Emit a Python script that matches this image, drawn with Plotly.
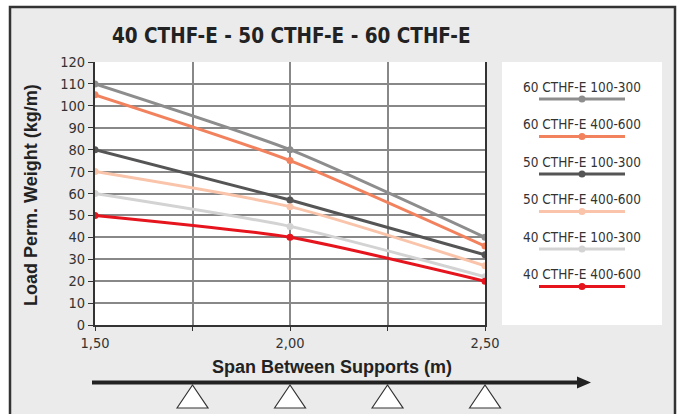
import plotly.graph_objects as go

# ---------------- data ----------------
span = [1.5, 2.0, 2.5]
series_names = ["60 CTHF-E 100-300", "60 CTHF-E 400-600", "50 CTHF-E 100-300",
                "50 CTHF-E 400-600", "40 CTHF-E 100-300", "40 CTHF-E 400-600"]
s60_100_300 = [110, 80, 40]
s60_400_600 = [105, 75, 36]
s50_100_300 = [80, 57, 32]
s50_400_600 = [70, 54, 27]
s40_100_300 = [60, 45, 22]
s40_400_600 = [50, 40, 20]
series_values = [s60_100_300, s60_400_600, s50_100_300, s50_400_600, s40_100_300, s40_400_600]
colors = ["#8d8d8d", "#f2825e", "#555555", "#f9c4aa", "#d3d3d3", "#e5141d"]
x_tick_vals = [1.5, 1.75, 2.0, 2.25, 2.5]
x_tick_text = ["1,50", "", "2,00", "", "2,50"]
support_positions = [1.75, 2.0, 2.25, 2.5]
x_range = [1.5, 2.5]
y_range = [0, 120]
title_text = "40 CTHF-E - 50 CTHF-E - 60 CTHF-E"
y_title = "Load Perm. Weight (kg/m)"
x_title = "Span Between Supports (m)"

# ---------------- layout helpers ----------------
W, H = 680, 414
L, R, T, B = 95, 195, 62, 89
PW, PH = W - L - R, H - T - B
def px(x):  # pixel x -> paper
    return (x - L) / PW
def py(y):  # pixel y -> paper
    return (H - B - y) / PH
def xdata_to_paper(v):
    return (v - x_range[0]) / (x_range[1] - x_range[0])

cond = "DejaVu Sans Condensed"
boldf = "Liberation Sans, Arial, sans-serif"

fig = go.Figure()
for name, vals, c in zip(series_names, series_values, colors):
    fig.add_trace(go.Scatter(x=span, y=vals, name=name, mode="lines+markers",
                             line=dict(color=c, width=3, shape="spline", smoothing=0.6),
                             marker=dict(color=c, size=7), showlegend=False))

shapes = []
# outer frame
shapes.append(dict(type="rect", xref="paper", yref="paper", x0=px(10), x1=px(675), y0=py(430), y1=py(7),
                   fillcolor="#ebebeb", line=dict(color="#333333", width=2.5), layer="below"))
# plot area white
shapes.append(dict(type="rect", xref="paper", yref="paper", x0=0, x1=1, y0=0, y1=1,
                   fillcolor="white", line=dict(width=0), layer="below"))
# legend box
shapes.append(dict(type="rect", xref="paper", yref="paper", x0=px(502), x1=px(662), y0=py(325), y1=py(62),
                   fillcolor="white", line=dict(width=0), layer="below"))

annotations = []
# custom legend
for i, (name, c) in enumerate(zip(series_names, colors)):
    ty = 86.7 + 37.5 * i
    ly = 99 + 37.5 * i
    annotations.append(dict(text=name, xref="paper", yref="paper", x=px(582), y=py(ty),
                            showarrow=False, xanchor="center", yanchor="middle",
                            font=dict(family=cond, size=13.5, color="#333333")))
    shapes.append(dict(type="line", xref="paper", yref="paper", x0=px(539), x1=px(625),
                       y0=py(ly), y1=py(ly), line=dict(color=c, width=3)))
    shapes.append(dict(type="circle", xref="paper", yref="paper", xsizemode="pixel", ysizemode="pixel",
                       xanchor=px(582), yanchor=py(ly), x0=-3.5, x1=3.5, y0=-3.5, y1=3.5,
                       fillcolor=c, line=dict(width=0)))

# title
annotations.append(dict(text="<b>" + title_text + "</b>", xref="paper", yref="paper", x=px(291), y=py(36.5),
                        showarrow=False, xanchor="center", yanchor="middle",
                        font=dict(family=cond, size=20.5, color="#222222")))
# y title
annotations.append(dict(text="<b>" + y_title + "</b>", xref="paper", yref="paper", x=px(31), y=py(195),
                        showarrow=False, textangle=-90, xanchor="center", yanchor="middle",
                        font=dict(family=boldf, size=18, color="#222222")))
# x title
annotations.append(dict(text="<b>" + x_title + "</b>", xref="paper", yref="paper", x=px(332), y=py(367),
                        showarrow=False, xanchor="center", yanchor="middle",
                        font=dict(family=boldf, size=18, color="#222222")))

# arrow
ay = py(382.5)
shapes.append(dict(type="line", xref="paper", yref="paper", x0=px(92), x1=px(580), y0=ay, y1=ay,
                   line=dict(color="#222222", width=4)))
shapes.append(dict(type="path", xref="paper", yref="paper",
                   path=f"M {px(577)},{ay + 6/PH} L {px(591)},{ay} L {px(577)},{ay - 6/PH} Z",
                   fillcolor="#222222", line=dict(width=0)))
# supports
ytop, ybot = py(385), py(408)
for s in support_positions:
    shapes.append(dict(type="path", xref="paper", yref="paper", xsizemode="pixel",
                       xanchor=xdata_to_paper(s),
                       path=f"M -15.5,{ybot} L 0,{ytop} L 15.5,{ybot} Z",
                       fillcolor="white", line=dict(color="#333333", width=1.2)))

fig.update_layout(
    width=W, height=H, autosize=False,
    margin=dict(l=L, r=R, t=T, b=B),
    paper_bgcolor="white", plot_bgcolor="white",
    shapes=shapes, annotations=annotations,
    xaxis=dict(range=x_range, tickvals=x_tick_vals, ticktext=x_tick_text,
               showgrid=True, gridcolor="#888888", gridwidth=1.5,
               showline=True, linecolor="#333333", linewidth=2,
               ticks="outside", ticklen=4, tickcolor="#333333",
               tickfont=dict(family=cond, size=14.5, color="#333333"), zeroline=False),
    yaxis=dict(range=y_range, dtick=10, showgrid=True, gridcolor="#888888", gridwidth=1.5,
               showline=True, linecolor="#333333", linewidth=2, mirror=True,
               ticks="outside", ticklen=5, tickcolor="#333333",
               tickfont=dict(family=cond, size=14.5, color="#333333"), zeroline=False),
)

fig.write_html("out.html", config={"displayModeBar": False},
               post_script="document.body.style.margin='0';")
